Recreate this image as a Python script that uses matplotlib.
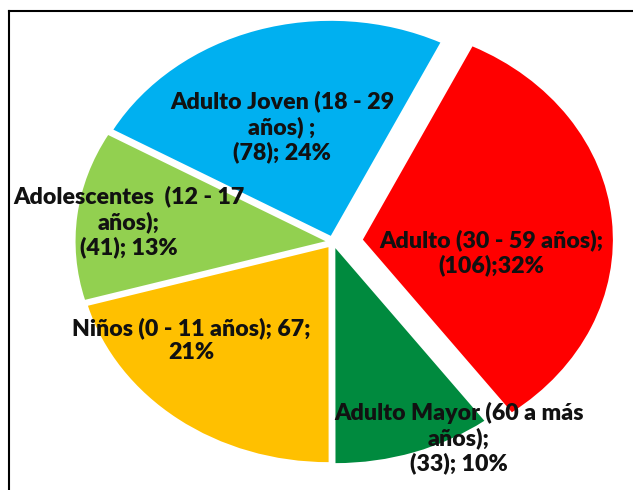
import numpy as np
import matplotlib
matplotlib.use("Agg")
import matplotlib.pyplot as plt
from matplotlib.lines import Line2D

# data, clockwise from the top right
groups = ["Adulto (30 - 59 años)", "Adulto Mayor (60 a más años)",
          "Niños (0 - 11 años)", "Adolescentes  (12 - 17 años)",
          "Adulto Joven (18 - 29 años)"]
counts = [106, 33, 67, 41, 78]
pcts = [32, 10, 21, 13, 24]
colors = ["#FF0000", "#008A3E", "#FFC000", "#92D050", "#00B0F0"]
explode = [0.12, 0.03, 0.03, 0.03, 0.03]

label_texts = [
    "Adulto (30 - 59 años);\n(106);32%",
    "Adulto Mayor (60 a más\naños);\n(33); 10%",
    "Niños (0 - 11 años); 67;\n21%",
    "Adolescentes  (12 - 17\naños);\n(41); 13%",
    "Adulto Joven (18 - 29\naños) ;\n(78); 24%",
]
# label centres in figure pixels (x, y from top)
label_pos = [(491, 253), (459, 438), (191, 340), (129, 222), (282, 127)]

W, H = 633, 490
fig = plt.figure(figsize=(W / 100, H / 100), dpi=100)
ax = fig.add_axes([0, 0, 1, 1])

ax.pie(counts, colors=colors, explode=explode, startangle=64,
       counterclock=False, radius=1.0,
       wedgeprops=dict(linewidth=0))

# ellipse: 250 px wide radius, 215 px tall radius, centre at (333, 242)
cx, cy, rx, ry = 333, 242, 250, 215
ax.set_aspect("auto")
ax.set_xlim(-cx / rx, (W - cx) / rx)
ax.set_ylim(-(H - cy) / ry, cy / ry)
ax.axis("off")

for txt, (px, py) in zip(label_texts, label_pos):
    fig.text(px / W, 1 - py / H, txt, ha="center", va="center",
             fontsize=16.7, fontweight="heavy", family="Lato",
             color="#111111", linespacing=1.2)

# frame lines (left and top)
fig.add_artist(Line2D([8.5 / W, 8.5 / W], [0, 1 - 11.5 / H], color="black", lw=1.5))
fig.add_artist(Line2D([8.5 / W, 1], [1 - 11.5 / H, 1 - 11.5 / H], color="black", lw=1.5))

fig.savefig("out.png", dpi=100)
